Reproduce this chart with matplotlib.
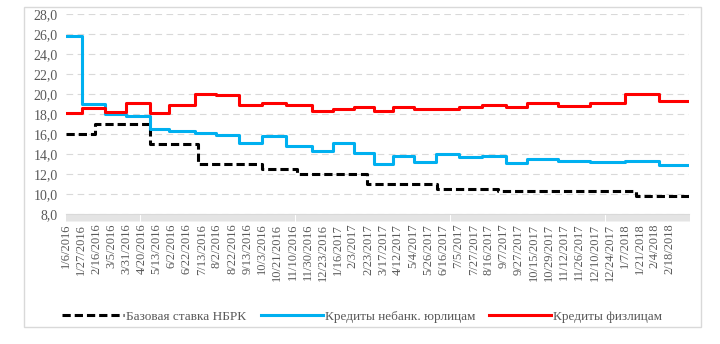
import matplotlib.pyplot as plt
from matplotlib.patches import Rectangle
from matplotlib.lines import Line2D

# Подписи оси X (каждая 15-я точка ряда)
date_labels = ["1/6/2016", "1/27/2016", "2/16/2016", "3/5/2016", "3/31/2016", "4/20/2016",
               "5/13/2016", "6/2/2016", "6/22/2016", "7/13/2016", "8/2/2016", "8/22/2016",
               "9/13/2016", "10/3/2016", "10/21/2016", "11/10/2016", "11/30/2016", "12/23/2016",
               "1/16/2017", "2/3/2017", "2/23/2017", "3/17/2017", "4/12/2017", "5/4/2017",
               "5/26/2017", "6/16/2017", "7/5/2017", "7/27/2017", "8/16/2017", "9/7/2017",
               "9/27/2017", "10/15/2017", "10/29/2017", "11/12/2017", "11/26/2017", "12/10/2017",
               "12/24/2017", "1/7/2018", "1/21/2018", "2/4/2018", "2/18/2018"]
label_step = 15
n_points = 620

# Базовая ставка: номер точки начала действия и значение
base_start = [0, 29, 83, 131, 195, 229, 299, 369, 429, 566]
base_rate = [16.0, 17.0, 15.0, 13.0, 12.5, 12.0, 11.0, 10.5, 10.25, 9.75]

# Месячные ставки по кредитам: номер точки начала месяца
month_start = [0, 16, 39, 60, 83, 102, 128, 149, 172, 195, 219, 244, 265,
               286, 306, 325, 346, 368, 390, 413, 437, 458, 489, 521, 555, 589]
corp_rate = [25.8, 19.0, 18.0, 17.8, 16.5, 16.3, 16.1, 15.9, 15.1, 15.8, 14.8, 14.3, 15.1,
             14.1, 13.0, 13.8, 13.2, 14.0, 13.7, 13.8, 13.1, 13.5, 13.3, 13.2, 13.3, 12.9]
retail_rate = [18.1, 18.6, 18.2, 19.1, 18.1, 18.9, 20.0, 19.9, 18.9, 19.1, 18.9, 18.3, 18.5,
               18.7, 18.3, 18.7, 18.5, 18.5, 18.7, 18.9, 18.7, 19.1, 18.8, 19.1, 20.0, 19.3]

series_names = ['Базовая ставка НБРК', 'Кредиты небанк. юрлицам', 'Кредиты физлицам']

plt.rcParams['font.family'] = ['Liberation Serif', 'DejaVu Serif']
txt_color = '#595959'
grid_color = '#d9d9d9'

fig = plt.figure(figsize=(7.2, 3.44), dpi=100)
ax = fig.add_axes([0.0917, 0.378, 0.8653, 0.581])

last = n_points - 1
ax.step(base_start + [last], base_rate + [base_rate[-1]], where='post',
        color='black', lw=2.2, dashes=(2.7, 1.3))
ax.step(month_start + [last], corp_rate + [corp_rate[-1]], where='post',
        color='#00B0F0', lw=2.2)
ax.step(month_start + [last], retail_rate + [retail_rate[-1]], where='post',
        color='#FF0000', lw=2.2)

ax.set_xlim(0, last)
ax.set_ylim(8, 28)
ax.set_yticks(range(8, 29, 2))
ax.set_yticklabels([f"{v},0" for v in range(8, 29, 2)], fontsize=10, color=txt_color)
ax.tick_params(axis='y', length=0, pad=6)

ax.set_xticks([i * label_step for i in range(len(date_labels))])
ax.set_xticklabels(date_labels, rotation=90, fontsize=9, color=txt_color)
ax.set_xticks(range(n_points), minor=True)
ax.tick_params(axis='x', which='both', length=5, width=0.5, color=grid_color, pad=2)

ax.grid(axis='y', color=grid_color, lw=0.8, dashes=(6, 4))
for s in ['top', 'right', 'left']:
    ax.spines[s].set_visible(False)
ax.spines['bottom'].set_color(grid_color)

handles = [Line2D([], [], color='black', lw=2.2, dashes=(2.7, 1.3)),
           Line2D([], [], color='#00B0F0', lw=2.2),
           Line2D([], [], color='#FF0000', lw=2.2)]
fig.legend(handles, series_names,
           loc='center', bbox_to_anchor=(0.503, 0.08), ncol=3, frameon=False,
           handlelength=4.7, handletextpad=0.15, columnspacing=1.1, fontsize=9.5,
           labelcolor=txt_color)

# рамка области диаграммы
fig.patches.append(Rectangle((24 / 720, 1 - 327 / 344), 677 / 720, 320 / 344,
                             transform=fig.transFigure, fill=False,
                             edgecolor=grid_color, lw=1))

fig.savefig('out.png', dpi=100)
plt.close('all')
